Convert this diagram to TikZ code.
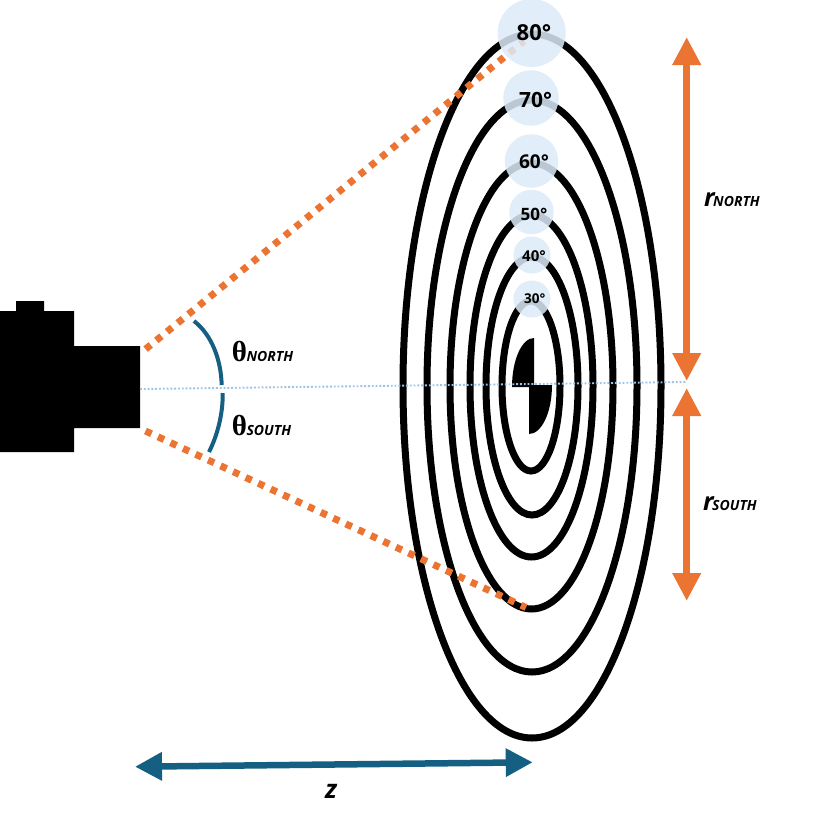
\documentclass[tikz,border=0pt]{standalone}
\usepackage{fontspec}
\setmainfont{Open Sans}
\newfontfamily\degfont{Open Sans Bold}
\newfontfamily\thetafont{Liberation Serif Bold}
\newfontfamily\labfont[ItalicFont={Open Sans Bold Italic}]{Open Sans}
\usetikzlibrary{arrows.meta}
\definecolor{ringblue}{HTML}{DCEAF7}
\definecolor{dotblue}{HTML}{9DC3E6}
\definecolor{orangeA}{HTML}{EC7433}
\definecolor{tealA}{HTML}{156082}
\newcommand{\fs}[1]{\fontsize{#1}{#1}\selectfont}
\newcommand{\lab}[2]{{\fs{25}\labfont\itshape #1\kern-1.5pt\fs{14}\MakeUppercase{#2}}}
\newcommand{\thlab}[1]{{\fs{29}\thetafont θ\kern-0.5pt\fs{14}\labfont\itshape\MakeUppercase{#1}}}
\tikzset{
  ring/.style={draw=black,line width=7pt},
  solidblack/.style={fill=black,draw=none},
  dotsorange/.style={draw=orangeA,line width=7pt,dash pattern=on 6.6pt off 7.2pt},
  axisdots/.style={draw=dotblue,line width=1.9pt,dash pattern=on 1.9pt off 1.9pt},
  angarc/.style={draw=tealA,line width=4pt},
  dimorange/.style={draw=orangeA,line width=7pt,{Triangle[length=28pt,width=27pt]}-{Triangle[length=28pt,width=27pt]}},
  dimteal/.style={draw=tealA,line width=6.5pt,{Triangle[length=27pt,width=27pt]}-{Triangle[length=27pt,width=27pt]}},
  bubble/.style={circle,fill=ringblue,fill opacity=.85,draw=none,inner sep=0pt},
  deg/.style={inner sep=0pt,text=black,font=\degfont},
  txt/.style={inner sep=0pt,anchor=base west,text=black},
}
\begin{document}
\begin{tikzpicture}[x=1pt,y=-1pt]
\useasboundingbox[fill=white] (0,0) rectangle (819,822);
% rings
\draw[ring] (532,386) ellipse [x radius=129pt,y radius=352pt];
\draw[ring] (532,386) ellipse [x radius=105pt,y radius=286pt];
\draw[ring] (531.5,386) ellipse [x radius=81.5pt,y radius=223pt];
\draw[ring] (531.5,386) ellipse [x radius=61.5pt,y radius=171pt];
\draw[ring] (532,386) ellipse [x radius=46pt,y radius=129pt];
\draw[ring] (531,386) ellipse [x radius=29pt,y radius=85pt];
% centre quarters
\fill[solidblack] (534,387) -- (512,387) arc[start angle=180,end angle=90,x radius=22pt,y radius=49pt] -- cycle;
\fill[solidblack] (529,385) -- (552,385) arc[start angle=0,end angle=-90,x radius=23pt,y radius=49pt] -- cycle;
% camera
\fill[solidblack] (0,311) -- (16,311) -- (16,301) -- (44,301) -- (44,311) -- (74,311) -- (74,346) -- (140,346) -- (140,428) -- (74,428) -- (74,452) -- (0,452) -- cycle;
% named connector ends
\coordinate (upA) at (145.6,349.1);
\coordinate (upB) at (524,41);
\coordinate (loA) at (145.5,431);
\coordinate (loB) at (526,607.5);
\coordinate (axA) at (140,389);
\coordinate (axB) at (687,382);
\coordinate (nTop) at (686.7,37);
\coordinate (nBot) at (686.7,381);
\coordinate (sTop) at (686.7,388);
\coordinate (sBot) at (686.7,601);
\coordinate (zA) at (135,766.7);
\coordinate (zB) at (532.7,762.3);
\coordinate (arcNa) at (194,321);
\coordinate (arcNb) at (221.7,385);
\coordinate (arcSa) at (222.7,393);
\coordinate (arcSb) at (209,452);
\draw[dotsorange] (upA) -- (upB);
\draw[dotsorange] (loA) -- (loB);
\draw[axisdots] (axA) -- (axB);
\draw[angarc] (arcNa) .. controls (212,335) and (221,360) .. (arcNb);
\draw[angarc] (arcSa) .. controls (223,415) and (217,436) .. (arcSb);
\draw[dimorange] (nTop) -- (nBot);
\draw[dimorange] (sTop) -- (sBot);
\draw[dimteal] (zA) -- (zB);
% bubbles
\node[bubble,minimum size=68pt] (b80) at (531.7,33) {};
\node[bubble,minimum size=55.5pt] (b70) at (531,98) {};
\node[bubble,minimum size=53.5pt] (b60) at (531.5,161) {};
\node[bubble,minimum size=44.5pt] (b50) at (531.5,212) {};
\node[bubble,minimum size=37pt] (b40) at (532,255) {};
\node[bubble,minimum size=37pt] (b30) at (532,299) {};
\node[deg] (t80) at (534,33) {\fs{22}80°};
\node[deg] (t70) at (535.7,100) {\fs{21}70°};
\node[deg] (t60) at (534,162) {\fs{19}60°};
\node[deg] (t50) at (534,214) {\fs{17}50°};
\node[deg] (t40) at (534,255.7) {\fs{15}40°};
\node[deg] (t30) at (534.7,299) {\fs{13.5}30°};
% labels
\node[txt] (thN) at (231.7,361.7) {\thlab{north}};
\node[txt] (thS) at (231.7,435.7) {\thlab{south}};
\node[txt] (rN) at (704,206.7) {\lab{r}{north}};
\node[txt] (rS) at (703,510) {\lab{r}{south}};
\node[txt] (zL) at (325,798) {\fs{26}\labfont\itshape z};
\end{tikzpicture}
\end{document}
